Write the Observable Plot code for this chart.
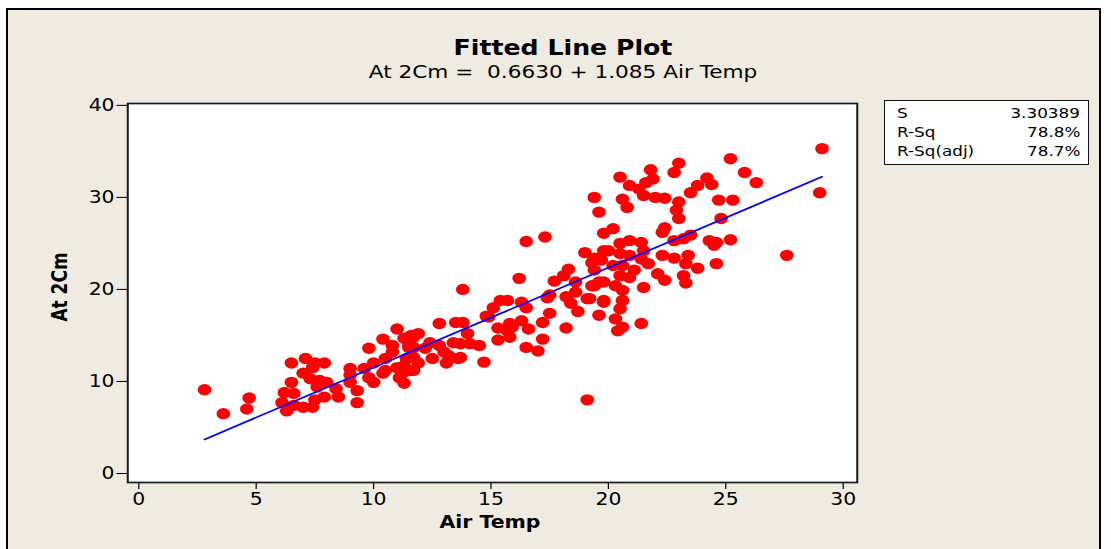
<!DOCTYPE html>
<html>
<head>
<meta charset="utf-8">
<script src="https://cdn.jsdelivr.net/npm/d3@7"></script>
<script src="https://cdn.jsdelivr.net/npm/@observablehq/plot@0.6"></script>
<style>
  body { margin: 0; background: #ffffff; }
  #chart { position: relative; width: 1111px; height: 549px; overflow: hidden;
           font-family: "DejaVu Sans", Verdana, sans-serif; color: #000; }
  #panel { position: absolute; left: 6px; top: 8px; width: 1091px; height: 600px;
           background: #efebe1; border: 2px solid #000; }
  #plot { position: absolute; left: 0; top: 0; }
  .lbl { position: absolute; white-space: pre; line-height: 1;
         transform: translate(-50%, -50%) scaleX(1.2); }
  #title { left: 563px; top: 48px; font-size: 21px; font-weight: bold; }
  #subtitle { left: 563px; top: 72px; font-size: 18px; }
  #xlabel { left: 490px; top: 522px; font-size: 17px; font-weight: bold; }
  #ylabel { left: 60px; top: 287px; font-size: 17px; font-weight: bold;
            transform: translate(-50%, -50%) scaleX(1.2) rotate(-90deg); }
  #stats { position: absolute; left: 884px; top: 100px; width: 203px; height: 63px;
           background: #fff; border: 1.5px solid #111; }
  .stat { position: absolute; font-size: 14px; line-height: 1; white-space: nowrap; }
  .stat.name { left: 12px; transform: translateY(-50%) scaleX(1.2); transform-origin: left center; }
  .stat.value { right: 8px; transform: translateY(-50%) scaleX(1.2); transform-origin: right center; }
</style>
</head>
<body>
<div id="chart">
  <div id="panel"></div>
  <div id="plot"></div>
  <div id="title" class="lbl"></div>
  <div id="subtitle" class="lbl"></div>
  <div id="xlabel" class="lbl"></div>
  <div id="ylabel" class="lbl"></div>
  <div id="stats"></div>
</div>
<script>
// Observations: air temperature vs. temperature at 2 cm
const airTemp = [
  2.8, 3.6, 4.7, 4.6, 6.5, 7.1, 6.5, 6.2, 6.1, 6.6,
  6.3, 6.6, 7.0, 7.4, 7.0, 7.4, 7.9, 7.5, 7.3, 7.7,
  8.0, 7.6, 7.9, 7.5, 8.4, 8.5, 9.0, 9.0, 9.0, 9.3,
  9.3, 9.8, 9.6, 9.8, 10.0, 10.0, 10.4, 10.4, 10.8, 10.5,
  11.0, 10.8, 11.0, 11.3, 11.4, 11.3, 11.3, 11.1, 11.6, 11.7,
  11.6, 10.5, 11.5, 11.3, 13.8, 11.9, 11.7, 11.5, 11.7, 11.9,
  11.7, 12.5, 13.1, 13.6, 12.8, 13.5, 13.8, 14.0, 14.1, 13.7,
  13.4, 13.7, 13.2, 13.0, 12.8, 12.4, 12.2, 14.5, 14.7, 14.8,
  14.9, 15.1, 15.4, 15.7, 15.8, 15.9, 15.7, 15.3, 15.8, 15.3,
  16.3, 16.5, 16.3, 16.6, 16.5, 17.0, 17.2, 18.2, 17.2, 17.5,
  17.4, 17.5, 18.4, 18.7, 18.2, 18.6, 19.2, 19.6, 19.8, 17.7,
  18.1, 18.3, 18.6, 16.2, 16.5, 17.3, 19.0, 19.3, 19.4, 19.7,
  19.8, 19.3, 19.8, 19.8, 19.4, 19.6, 19.1, 25.2, 23.0, 22.8,
  21.8, 20.5, 20.9, 20.6, 20.8, 21.3, 21.6, 21.9, 21.5, 22.0,
  22.4, 23.0, 22.9, 23.0, 23.5, 23.8, 24.2, 24.4, 24.7, 25.3,
  24.8, 22.4, 22.3, 20.2, 20.5, 20.9, 21.4, 21.5, 20.0, 22.8,
  23.2, 23.5, 24.3, 24.6, 25.2, 24.6, 22.3, 22.8, 23.4, 23.3,
  23.8, 23.2, 23.3, 22.4, 22.1, 21.7, 21.4, 20.9, 20.5, 19.4,
  20.2, 20.6, 21.1, 20.9, 21.5, 20.5, 20.3, 20.6, 20.6, 20.5,
  20.3, 20.6, 20.4, 21.4, 19.8, 19.1, 19.4, 19.6, 19.6, 29.1,
  25.8, 26.3, 29.0, 24.5, 27.6
];
const at2Cm = [
  9.1, 6.5, 8.2, 7.0, 12.0, 12.5, 9.9, 8.8, 7.7, 8.7,
  6.8, 7.4, 7.2, 7.2, 10.9, 11.5, 12.0, 12.0, 10.3, 10.1,
  9.9, 9.4, 8.3, 8.0, 9.2, 8.3, 11.4, 10.7, 9.9, 9.0,
  7.7, 13.6, 11.4, 10.4, 12.0, 9.9, 10.9, 14.6, 13.9, 12.5,
  15.7, 13.2, 11.5, 14.7, 12.5, 11.0, 9.8, 10.4, 15.0, 13.7,
  11.2, 11.2, 14.1, 11.7, 20.0, 15.2, 14.8, 13.7, 12.6, 12.0,
  11.2, 12.5, 12.0, 12.5, 16.3, 16.4, 16.4, 15.2, 14.1, 14.1,
  14.2, 12.6, 12.8, 13.2, 13.9, 14.2, 13.6, 13.9, 12.1, 17.1,
  17.0, 18.0, 18.8, 18.8, 16.3, 15.9, 15.5, 15.8, 14.8, 14.5,
  18.6, 18.0, 16.6, 15.7, 13.7, 13.3, 14.6, 15.8, 16.4, 17.4,
  19.1, 19.4, 18.5, 17.6, 19.2, 19.7, 19.0, 17.2, 18.8, 20.9,
  21.5, 22.2, 20.8, 21.2, 25.2, 25.7, 24.0, 22.9, 22.1, 23.2,
  20.8, 20.4, 24.2, 26.1, 30.0, 28.4, 8.0, 34.2, 33.7, 32.7,
  33.0, 32.2, 31.3, 29.8, 28.9, 30.9, 31.6, 32.0, 30.2, 30.0,
  29.9, 29.5, 28.6, 27.7, 30.5, 31.3, 32.1, 31.4, 29.7, 29.7,
  27.7, 26.7, 26.2, 26.6, 25.0, 25.3, 25.1, 24.2, 24.2, 25.3,
  25.5, 25.9, 25.3, 25.1, 25.4, 22.8, 23.7, 23.4, 23.7, 22.8,
  22.3, 21.5, 20.7, 21.0, 21.7, 22.8, 23.3, 23.7, 23.9, 23.4,
  22.6, 22.6, 22.1, 21.3, 20.2, 21.5, 20.4, 19.9, 18.8, 17.9,
  16.8, 15.9, 15.5, 16.3, 18.6, 19.0, 20.4, 20.8, 23.4, 35.3,
  32.7, 31.6, 30.5, 24.8, 23.7
];

// Regression fit reported in the header
const fitIntercept = 0.6630;
const fitSlope = 1.085;

const xTicks = [0, 5, 10, 15, 20, 25, 30];
const yTicks = [0, 10, 20, 30, 40];

const titleText = "Fitted Line Plot";
const subtitleText = "At 2Cm =  0.6630 + 1.085 Air Temp";
const xLabel = "Air Temp";
const yLabel = "At 2Cm";

const statNames = ["S", "R-Sq", "R-Sq(adj)"];
const statValues = ["3.30389", "78.8%", "78.7%"];

// Build tables for the marks
const points = airTemp.map((t, i) => ({airTemp: t, at2Cm: at2Cm[i]}));
const fit = d3.extent(airTemp).map(t => ({airTemp: t, at2Cm: fitIntercept + fitSlope * t}));

// The plot is drawn in a narrower coordinate space and stretched horizontally
const outW = 1111, outH = 549;
const W = 926;

const svg = Plot.plot({
  width: W,
  height: outH,
  marginLeft: 106,
  marginRight: 212,
  marginTop: 103,
  marginBottom: 67,
  style: {background: "transparent", fontFamily: "DejaVu Sans, Verdana, sans-serif", fontSize: "17px", color: "#000", overflow: "visible"},
  x: {domain: [-0.47, 30.6], ticks: xTicks, tickSize: 7, tickPadding: 3, label: null},
  y: {domain: [-0.98, 40.2], ticks: yTicks, tickSize: 9, tickPadding: 2, label: null},
  marks: [
    Plot.frame({fill: "#ffffff"}),
    Plot.dot(points, {x: "airTemp", y: "at2Cm", r: 5.7, fill: "#ff0000", stroke: "none"}),
    Plot.line(fit, {x: "airTemp", y: "at2Cm", stroke: "#0000ff", strokeWidth: 1.7}),
    Plot.frame({stroke: "#1a1a1a", strokeWidth: 1.7})
  ]
});
svg.setAttribute("preserveAspectRatio", "none");
svg.style.width = outW + "px";
svg.style.height = outH + "px";
svg.style.maxWidth = "none";
document.getElementById("plot").appendChild(svg);

document.getElementById("title").textContent = titleText;
document.getElementById("subtitle").textContent = subtitleText;
document.getElementById("xlabel").textContent = xLabel;
document.getElementById("ylabel").textContent = yLabel;

// Summary statistics box
const stats = document.getElementById("stats");
const rowY = [12, 31, 50];
statNames.forEach((name, i) => {
  const a = document.createElement("div");
  a.className = "stat name";
  a.style.top = rowY[i] + "px";
  a.textContent = name;
  stats.appendChild(a);
  const b = document.createElement("div");
  b.className = "stat value";
  b.style.top = rowY[i] + "px";
  b.textContent = statValues[i];
  stats.appendChild(b);
});
</script>
</body>
</html>
